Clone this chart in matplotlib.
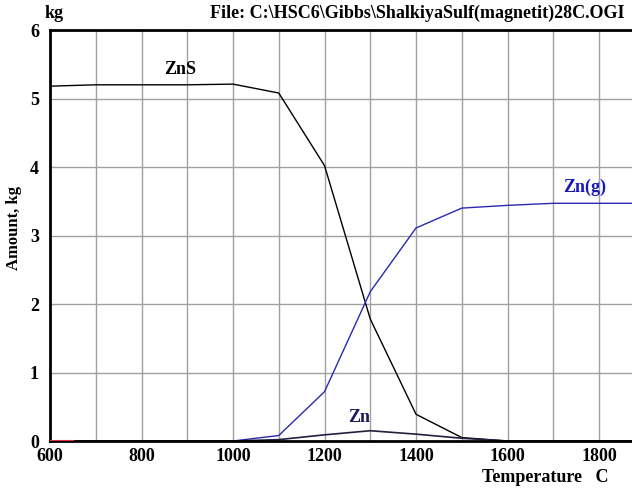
import matplotlib.pyplot as plt
import numpy as np

# Temperatures, C
temp = [600, 700, 800, 900, 1000, 1100, 1200, 1300, 1400, 1500, 1600, 1700, 1800, 1900]

# Amount, kg
zns = [5.18, 5.2, 5.2, 5.2, 5.21, 5.08, 4.02, 1.78, 0.39, 0.05, 0.0, 0.0, 0.0, 0.0]
zn_g = [0.0, 0.0, 0.0, 0.0, 0.0, 0.08, 0.72, 2.18, 3.11, 3.40, 3.44, 3.47, 3.47, 3.47]
zn = [0.0, 0.0, 0.0, 0.0, 0.0, 0.02, 0.09, 0.15, 0.10, 0.04, 0.0, 0.0, 0.0, 0.0]
red_temp = [600, 650]
red_vals = [0.0, 0.0]

plt.rcParams["font.family"] = ["Liberation Serif", "DejaVu Serif"]
plt.rcParams["font.weight"] = "bold"

fig = plt.figure(figsize=(6.32, 4.9), dpi=100)
ax = fig.add_axes([50 / 632, 49 / 490, 1 - 50 / 632, 411 / 490])

ax.set_xlim(600, 1872)
ax.set_ylim(0, 6)
ax.set_xticks(np.arange(600, 1900, 100), minor=True)
ax.set_xticks([600, 800, 1000, 1200, 1400, 1600, 1800])
ax.set_yticks(range(0, 7))
ax.grid(True, which="both", color="#a0a0a0", lw=1)
ax.tick_params(which="both", length=0, labelsize=13)
ax.tick_params(axis="y", pad=8)
ax.tick_params(axis="x", pad=5)

for s in ["left", "bottom", "top"]:
    ax.spines[s].set_linewidth(2)
ax.spines["right"].set_visible(False)

ax.plot(temp, zns, color="black", lw=1)
ax.plot(temp, zn_g, color="#2a2ab0", lw=1)
ax.plot(temp, zn, color="#202040", lw=1.2)
ax.plot(red_temp, red_vals, color="#e03030", lw=1.5, zorder=5)

ax.text(884, 5.43, "ZnS", fontsize=13, fontweight="bold", color="black",
        ha="center", va="center")
ax.text(1768, 3.7, "Zn(g)", fontsize=13, fontweight="bold", color="#1818c0",
        ha="center", va="center")
ax.text(1275, 0.34, "Zn", fontsize=13, fontweight="bold", color="#1a1a60",
        ha="center", va="center")

fig.text(54 / 632, 1 - 13 / 490, "kg", fontsize=13, fontweight="bold",
         ha="center", va="center")
fig.text(625 / 632, 1 - 13 / 490, r"File: C:\HSC6\Gibbs\ShalkiyaSulf(magnetit)28C.OGI",
         fontsize=13, fontweight="bold", ha="right", va="center")
fig.text(608 / 632, 1 - 477 / 490, "Temperature   C", fontsize=13,
         fontweight="bold", ha="right", va="center")
fig.text(14 / 632, 1 - 228 / 490, "Amount, kg", fontsize=12, fontweight="bold",
         rotation=90, ha="center", va="center")

fig.savefig("out.png", dpi=100)
